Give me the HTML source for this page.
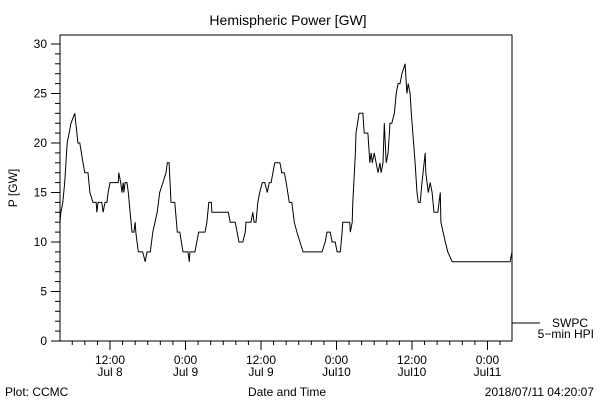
<!DOCTYPE html>
<html><head><meta charset="utf-8"><style>
body{margin:0;background:#fff}
svg{display:block;font-family:"Liberation Sans",sans-serif;font-size:12px}
</style></head><body>
<svg id="c" width="600" height="400" viewBox="0 0 600 400">
<rect x="0" y="0" width="600" height="400" fill="#fff"/>
<text x="288" y="25" font-size="14" text-anchor="middle">Hemispheric Power [GW]</text>
<rect x="60" y="35" width="452" height="306" fill="none" stroke="#000" stroke-width="1"/>
<g id="yax"></g>
<g id="xax"></g>
<text transform="translate(17,188) rotate(-90)" text-anchor="middle">P [GW]</text>
<path id="line" fill="none" stroke="#000" stroke-width="1"/>
<line x1="512" y1="323" x2="540" y2="323" stroke="#000"/>
<text x="588" y="327" text-anchor="end">SWPC</text>
<text x="594" y="338" text-anchor="end">5−min HPI</text>
<text x="5" y="396">Plot: CCMC</text>
<text x="287" y="396" text-anchor="middle">Date and Time</text>
<text x="594" y="396" text-anchor="end">2018/07/11 04:20:07</text>
</svg>
<script>
const hours=[4.05,4.2,4.5,4.8,5.2,5.5,5.8,6.4,6.9,7.2,7.7,8.0,8.5,8.8,9.3,9.8,9.9,10.1,10.7,10.9,11.2,11.5,11.7,12,12.8,13.3,13.4,13.7,13.9,14.1,14.2,14.4,14.7,14.9,15.2,15.5,15.8,16.0,16.1,16.5,17.2,17.6,17.9,18.4,18.8,19.5,19.9,20.4,20.9,21.1,21.4,21.7,22.3,22.7,23.1,23.6,24.4,24.6,24.7,25.5,26.1,27.1,27.4,27.7,28.1,28.2,30.8,31.1,31.9,32.5,33.1,33.5,33.6,34.4,34.7,34.9,35.2,35.5,35.8,36.2,36.6,37.0,37.3,37.6,37.9,38.2,39.0,39.3,39.7,40.0,40.5,40.9,41.3,41.7,42.2,42.7,45.7,46.2,46.5,47.0,47.3,47.8,48.1,48.6,48.9,49.0,50.1,50.2,50.5,50.6,51.0,51.1,51.6,52.2,52.4,53.0,53.2,53.3,53.5,53.7,54.0,54.3,54.6,54.9,55.1,55.4,55.6,55.9,56.2,56.5,56.8,57.2,57.5,57.8,58.1,58.4,58.9,59.2,59.4,59.7,59.9,60.5,60.8,61.0,61.3,61.6,62.1,62.2,62.6,62.9,63.2,63.5,64.1,64.5,64.6,65.3,65.7,66.4,75.6,75.9];
const power=[12,13,14,16,20,21,22,23,20,20,18,17,17,15,14,14,13,14,14,13,14,14,15,16,16,16,17,16,15,16,15,16,16,15,13,11,11,12,11,9,9,8,9,9,11,13,15,16,17,18,18,14,14,11,11,9,9,8,9,9,11,11,12,14,14,13,13,12,12,10,10,11,12,12,13,12,12,14,15,16,16,15,16,16,17,18,18,17,17,16,14,14,12,11,10,9,9,10,11,11,10,10,9,9,11,12,12,11,12,14,19,21,23,23,21,21,19,18,19,18,19,18,17,18,17,18,22,18,19,22,22,23,25,26,26,27,28,25,26,25,23,18,15,14,14,16,19,17,15,16,15,13,13,15,12,10,9,8,8,9];
const yTicks=[0,5,10,15,20,25,30];
const xTickHours=[12,24,36,48,60,72];
const xTickLabels=[["12:00","Jul 8"],["0:00","Jul 9"],["12:00","Jul 9"],["0:00","Jul10"],["12:00","Jul10"],["0:00","Jul11"]];
const H0=4.05,H1=75.9;
const X=h=>60+(h-H0)*(452/(H1-H0));
const Y=v=>341-v*(297/30);
const NS="http://www.w3.org/2000/svg";
function mk(t,a,p){const e=document.createElementNS(NS,t);for(const k in a)e.setAttribute(k,a[k]);p.appendChild(e);return e;}
const yax=document.getElementById('yax');
for(let v=0;v<=30;v++){
  const t=mk('line',{x1:60,x2:(v%5==0)?51:55,y1:Y(v),y2:Y(v),stroke:'#000'},yax);
  
  
}
yTicks.forEach(v=>{
  const t=mk('text',{x:47,y:Y(v)+4,'text-anchor':'end'},yax);t.textContent=v;
  
  
});
const xax=document.getElementById('xax');
for(let h=6;h<=H1;h+=2){
  const major=(h%12==0);
  const t=mk('line',{x1:X(h),x2:X(h),y1:341,y2:major?350:345,stroke:'#000'},xax);
  
  
}
xTickHours.forEach((h,i)=>{
  const t=mk('text',{x:X(h),y:364,'text-anchor':'middle'},xax);t.textContent=xTickLabels[i][0];
  
  
  const d=mk('text',{x:X(h),y:376,'text-anchor':'middle'},xax);d.textContent=xTickLabels[i][1];
  
  
});
document.getElementById('line').setAttribute('d',hours.map((h,i)=>(i?'L':'M')+X(h).toFixed(1)+','+Y(power[i]).toFixed(1)).join(''));
</script>
</body></html>
